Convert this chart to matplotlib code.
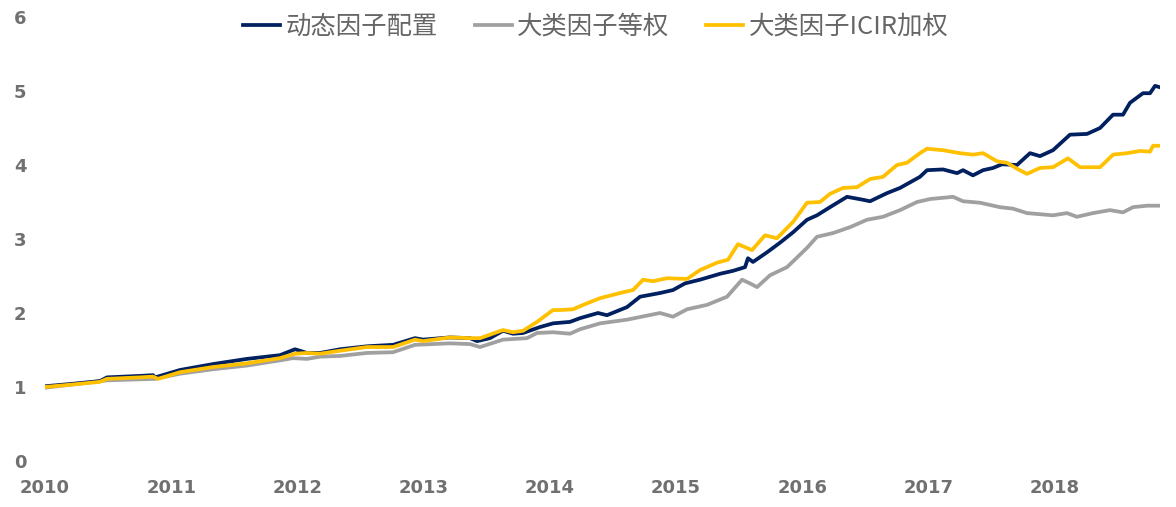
import matplotlib
matplotlib.use("Agg")
import matplotlib.pyplot as plt

plt.rcParams['font.family'] = ['Noto Sans CJK SC', 'DejaVu Sans']

# ---- data (decimal years, cumulative value) ----
dyn_t = [2010.000, 2010.198, 2010.436, 2010.491, 2010.753, 2010.856, 2010.872, 2011.070,
         2011.331, 2011.601, 2011.862, 2011.981, 2012.076, 2012.179, 2012.338, 2012.551,
         2012.758, 2012.932, 2012.995, 2013.209, 2013.368, 2013.423, 2013.526, 2013.629,
         2013.708, 2013.788, 2013.922, 2014.025, 2014.160, 2014.239, 2014.382, 2014.453,
         2014.612, 2014.715, 2014.873, 2014.976, 2015.071, 2015.190, 2015.349, 2015.452,
         2015.547, 2015.570, 2015.610, 2015.721, 2015.824, 2015.927, 2016.038, 2016.117,
         2016.220, 2016.355, 2016.482, 2016.537, 2016.672, 2016.775, 2016.933, 2016.989,
         2017.116, 2017.227, 2017.274, 2017.353, 2017.433, 2017.512, 2017.583, 2017.702,
         2017.805, 2017.884, 2017.987, 2018.122, 2018.257, 2018.360, 2018.463, 2018.542,
         2018.597, 2018.700, 2018.756, 2018.796, 2018.835]
dyn_v = [1.01, 1.04, 1.08, 1.13, 1.15, 1.16, 1.13, 1.23,
         1.31, 1.38, 1.43, 1.51, 1.46, 1.46, 1.51, 1.55,
         1.57, 1.66, 1.64, 1.67, 1.66, 1.62, 1.66, 1.76,
         1.72, 1.73, 1.81, 1.86, 1.88, 1.93, 2.00, 1.97,
         2.08, 2.22, 2.27, 2.31, 2.40, 2.45, 2.53, 2.57,
         2.62, 2.74, 2.69, 2.82, 2.95, 3.09, 3.26, 3.32,
         3.43, 3.57, 3.53, 3.51, 3.62, 3.69, 3.84, 3.93,
         3.94, 3.89, 3.93, 3.86, 3.93, 3.96, 4.01, 4.00,
         4.16, 4.12, 4.20, 4.41, 4.42, 4.50, 4.68, 4.68,
         4.84, 4.97, 4.97, 5.07, 5.05]

eq_t = [2010.000, 2010.491, 2010.872, 2011.070, 2011.331, 2011.601, 2011.862, 2011.965,
        2012.076, 2012.179, 2012.338, 2012.551, 2012.758, 2012.932, 2013.209, 2013.368,
        2013.447, 2013.629, 2013.819, 2013.899, 2014.025, 2014.160, 2014.239, 2014.398,
        2014.612, 2014.873, 2014.976, 2015.087, 2015.246, 2015.404, 2015.523, 2015.586,
        2015.642, 2015.745, 2015.880, 2016.038, 2016.117, 2016.244, 2016.379, 2016.513,
        2016.640, 2016.775, 2016.910, 2017.013, 2017.195, 2017.274, 2017.409, 2017.567,
        2017.670, 2017.781, 2017.987, 2018.098, 2018.177, 2018.304, 2018.439, 2018.542,
        2018.621, 2018.732, 2018.835]
eq_v = [0.99, 1.09, 1.11, 1.18, 1.24, 1.29, 1.36, 1.39,
        1.38, 1.41, 1.42, 1.46, 1.47, 1.57, 1.59, 1.58,
        1.54, 1.64, 1.66, 1.73, 1.74, 1.72, 1.78, 1.86,
        1.91, 2.00, 1.95, 2.05, 2.11, 2.22, 2.45, 2.40,
        2.35, 2.51, 2.62, 2.88, 3.03, 3.08, 3.16, 3.26,
        3.30, 3.39, 3.50, 3.54, 3.57, 3.51, 3.49, 3.43,
        3.41, 3.35, 3.32, 3.35, 3.30, 3.35, 3.39, 3.36,
        3.43, 3.45, 3.45]

icir_t = [2010.000, 2010.198, 2010.436, 2010.491, 2010.753, 2010.856, 2010.895, 2011.070,
          2011.331, 2011.601, 2011.862, 2011.981, 2012.076, 2012.179, 2012.338, 2012.551,
          2012.758, 2012.932, 2012.995, 2013.209, 2013.368, 2013.447, 2013.629, 2013.708,
          2013.788, 2013.899, 2014.025, 2014.081, 2014.184, 2014.279, 2014.398, 2014.556,
          2014.659, 2014.739, 2014.818, 2014.929, 2015.087, 2015.190, 2015.325, 2015.412,
          2015.491, 2015.602, 2015.705, 2015.800, 2015.927, 2016.038, 2016.141, 2016.220,
          2016.323, 2016.434, 2016.537, 2016.640, 2016.751, 2016.830, 2016.933, 2016.989,
          2017.116, 2017.250, 2017.353, 2017.433, 2017.544, 2017.623, 2017.702, 2017.781,
          2017.884, 2017.987, 2018.106, 2018.201, 2018.360, 2018.463, 2018.574, 2018.677,
          2018.756, 2018.780, 2018.835]
icir_v = [1.00, 1.03, 1.07, 1.11, 1.13, 1.14, 1.11, 1.20,
          1.27, 1.32, 1.39, 1.45, 1.46, 1.45, 1.49, 1.54,
          1.54, 1.64, 1.62, 1.67, 1.66, 1.66, 1.77, 1.74,
          1.76, 1.88, 2.04, 2.04, 2.05, 2.12, 2.20, 2.27,
          2.31, 2.45, 2.43, 2.47, 2.46, 2.58, 2.68, 2.72,
          2.93, 2.85, 3.05, 3.01, 3.23, 3.49, 3.50, 3.61,
          3.69, 3.70, 3.81, 3.84, 4.00, 4.03, 4.16, 4.22,
          4.20, 4.16, 4.14, 4.16, 4.05, 4.03, 3.95, 3.88,
          3.96, 3.97, 4.09, 3.97, 3.97, 4.14, 4.16, 4.19,
          4.18, 4.26, 4.26]

series_names = ['动态因子配置', '大类因子等权', '大类因子ICIR加权']
x_ticks = [2010, 2011, 2012, 2013, 2014, 2015, 2016, 2017, 2018]
x_labels = ['2010', '2011', '2012', '2013', '2014', '2015', '2016', '2017', '2018']
y_ticks = [0, 1, 2, 3, 4, 5, 6]

# ---- figure ----
W, H = 1176, 507
fig = plt.figure(figsize=(W / 100, H / 100), dpi=100)
ax = fig.add_axes([45 / W, (H - 461) / H, 1115 / W, 444 / H])

c_dyn, c_eq, c_icir = '#002060', '#a0a0a0', '#ffc000'
lw = 2.7
l_eq, = ax.plot(eq_t, eq_v, color=c_eq, lw=lw, solid_joinstyle='round')
l_dyn, = ax.plot(dyn_t, dyn_v, color=c_dyn, lw=lw, solid_joinstyle='round')
l_icir, = ax.plot(icir_t, icir_v, color=c_icir, lw=lw, solid_joinstyle='round')

ax.set_xlim(2010, 2018.835)
ax.set_ylim(0, 6)
ax.set_xticks(x_ticks)
ax.set_xticklabels(x_labels)
ax.set_yticks(y_ticks)
for s in ax.spines.values():
    s.set_visible(False)
ax.tick_params(axis='both', length=0, colors='#707070')
ax.tick_params(axis='x', pad=13)
ax.tick_params(axis='y', pad=13.5)
for lab in ax.get_xticklabels() + ax.get_yticklabels():
    lab.set_family('DejaVu Sans')
    lab.set_fontweight('bold')
    lab.set_fontsize(13)
    lab.set_color('#707070')

leg = fig.legend([l_dyn, l_eq, l_icir], series_names, loc='center',
                 bbox_to_anchor=(596 / W, 1 - 27 / H), ncol=3, frameon=False,
                 fontsize=18.3, handlelength=1.45, handletextpad=0.22,
                 columnspacing=1.45, labelcolor='#666666')

fig.savefig('out.png', dpi=100)
